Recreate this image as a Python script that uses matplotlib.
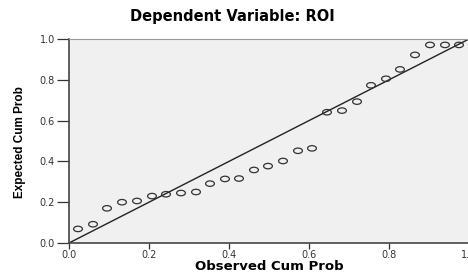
import matplotlib
matplotlib.use("Agg")
import matplotlib.pyplot as plt
from matplotlib.path import Path
from matplotlib.transforms import Affine2D

# P-P plot data
observed = [0.0225, 0.06, 0.095, 0.1325, 0.17, 0.2075, 0.2425, 0.28, 0.3175,
            0.3525, 0.39, 0.425, 0.4625, 0.4975, 0.535, 0.5725, 0.6075,
            0.645, 0.6825, 0.72, 0.755, 0.7925, 0.8275, 0.865, 0.9025,
            0.94, 0.975]
expected = [0.069, 0.092, 0.170, 0.200, 0.206, 0.230, 0.239, 0.245, 0.250,
            0.291, 0.314, 0.316, 0.358, 0.377, 0.402, 0.452, 0.464,
            0.641, 0.649, 0.693, 0.773, 0.805, 0.851, 0.922, 0.971,
            0.971, 0.971]
ticks = [0.0, 0.2, 0.4, 0.6, 0.8, 1.0]
tick_labels = ["0.0", "0.2", "0.4", "0.6", "0.8", "1.0"]

fig = plt.figure(figsize=(4.68, 2.73), dpi=100)
ax = fig.add_axes([69 / 468, 30 / 273, 400 / 468, 204 / 273])
ax.set_facecolor("#f0f0f0")

# flat oval marker like the original
oval = Affine2D().scale(1.0, 0.62).transform_path(Path.unit_circle())

ax.plot([0, 1], [0, 1], color="#222222", lw=1.0)
ax.scatter(observed, expected, s=40, marker=oval, facecolors="none",
           edgecolors="#333333", linewidths=0.9, zorder=3, clip_on=False)

ax.set_xlim(0, 1)
ax.set_ylim(0, 1)
ax.set_xticks(ticks)
ax.set_xticklabels(tick_labels)
ax.set_yticks(ticks)
ax.set_yticklabels(tick_labels)
ax.tick_params(direction="out", width=0.9, color="#333333",
               labelsize=7, labelcolor="#333333", pad=1)
ax.tick_params(axis="y", length=9)
ax.tick_params(axis="x", length=4)
for lab in ax.get_xticklabels() + ax.get_yticklabels():
    lab.set_family("DejaVu Sans")

for side in ["left", "bottom"]:
    ax.spines[side].set_color("#444444")
    ax.spines[side].set_linewidth(1.2)
for side in ["top", "right"]:
    ax.spines[side].set_color("#999999")
    ax.spines[side].set_linewidth(0.8)

fig.text(269 / 468, 1 - 267 / 273, "Observed Cum Prob", family="DejaVu Sans",
         fontweight="bold", fontsize=9.5, ha="center", va="center")
fig.text(20 / 468, 1 - 142 / 273, "Expected Cum Prob", family="Liberation Sans",
         fontweight="bold", fontsize=8.5, ha="center", va="center",
         rotation=90)
fig.text(232 / 468, 1 - 17 / 273, "Dependent Variable: ROI",
         family="DejaVu Sans", fontweight="bold", fontsize=10.5,
         ha="center", va="center")

fig.savefig("out.png", dpi=100)
